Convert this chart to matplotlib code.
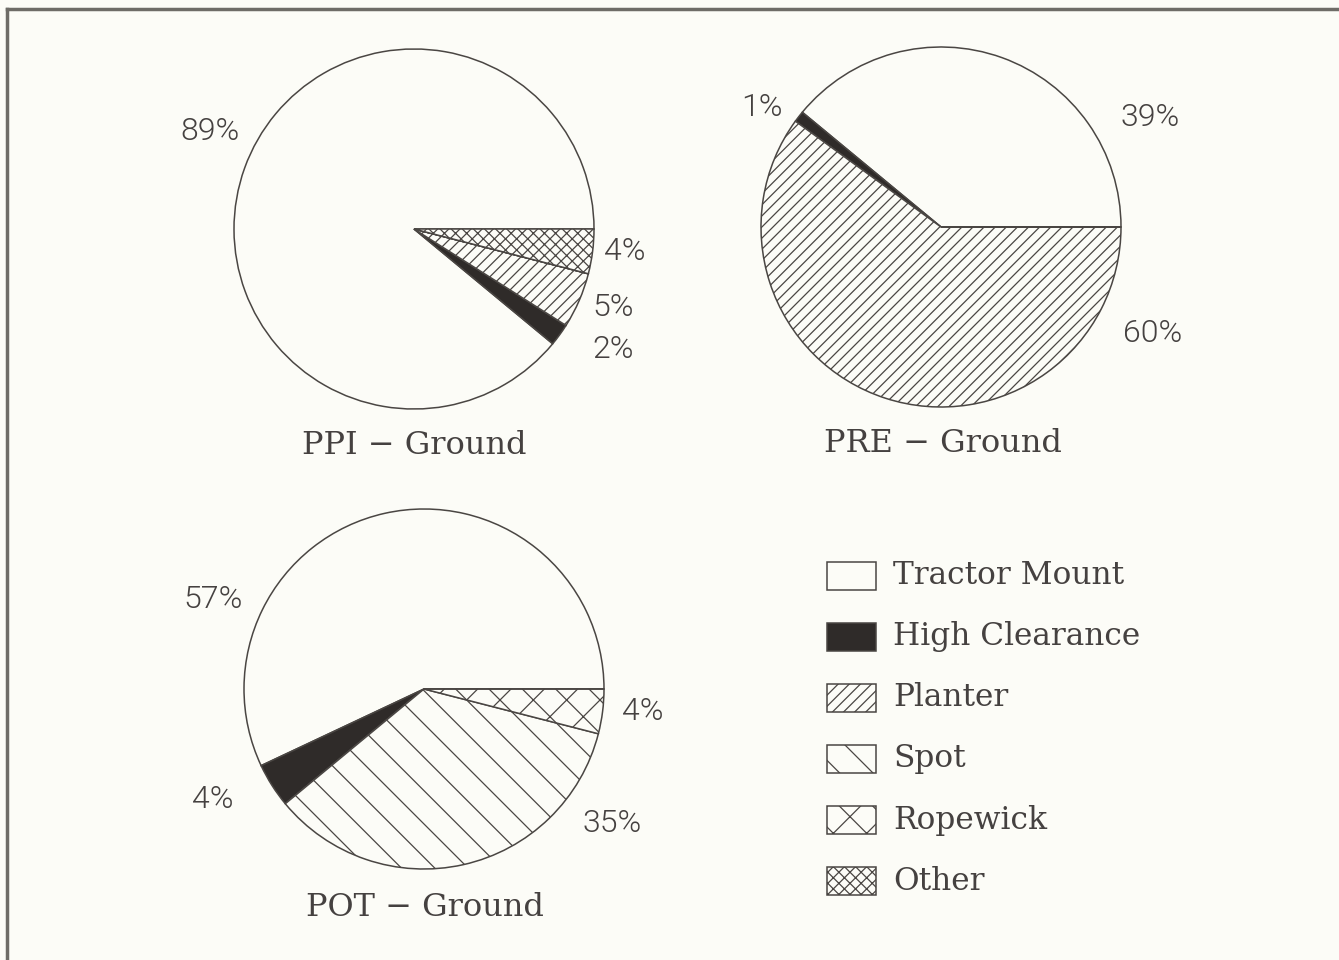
import matplotlib
matplotlib.use("Agg")
import matplotlib.pyplot as plt
from matplotlib.patches import Rectangle
from matplotlib.lines import Line2D

# ---- data ----
categories = ["Tractor Mount", "High Clearance", "Planter", "Spot", "Ropewick", "Other"]
ppi_values = [89, 2, 5, 0, 0, 4]
pre_values = [39, 1, 60, 0, 0, 0]
pot_values = [57, 4, 0, 35, 4, 0]
titles = ["PPI − Ground", "PRE − Ground", "POT − Ground"]

# ---- style ----
BG = "#fcfcf7"
EDGE = "#4a4643"
DARK = "#2f2b29"
TXT = "#454140"
fills = ["none", DARK, "none", "none", "none", "none"]
hatches = [None, None, "///", "\\", "x", "xxx"]
plt.rcParams["hatch.linewidth"] = 0.9
plt.rcParams["hatch.color"] = EDGE

W, H = 1339, 960
fig = plt.figure(figsize=(W / 100, H / 100), dpi=100, facecolor=BG)
ax = fig.add_axes([0, 0, 1, 1])
ax.set_facecolor(BG)

def Y(py):
    return H - py

pies = [
    (ppi_values, (414, 229), 180),
    (pre_values, (941, 227), 180),
    (pot_values, (424, 689), 180),
]

for vals, (cx, cy), r in pies:
    wedges, _ = ax.pie(vals, center=(cx, Y(cy)), radius=r, startangle=0,
                       counterclock=True, frame=True,
                       wedgeprops=dict(edgecolor=EDGE, linewidth=1.1))
    for w, f, h in zip(wedges, fills, hatches):
        w.set_facecolor(BG if f == "none" else f)
        if h:
            w.set_hatch(h)

# percent labels (positions in pixels)
pct_font = dict(fontsize=23, color=TXT, family=["Roboto", "DejaVu Sans"], fontweight=300,
                ha="center", va="center")
labels = [
    ("89%", 210, 132), ("4%", 625, 252), ("5%", 613, 307), ("2%", 613, 349),
    ("1%", 762, 108), ("39%", 1150, 118), ("60%", 1153, 334),
    ("57%", 213, 600), ("4%", 643, 712), ("4%", 213, 800), ("35%", 612, 824),
]
for t, x, y in labels:
    ax.text(x, Y(y), t, **pct_font)

serif = ["DejaVu Serif"]
title_pos = [(414, 446), (943, 443), (425, 908)]
for t, (x, y) in zip(titles, title_pos):
    ax.text(x, Y(y), t, fontsize=23, color=TXT, family=serif, ha="center", va="center")

# legend
for i, (c, f, h) in enumerate(zip(categories, fills, hatches)):
    yc = 576 + i * 61
    rect = Rectangle((827, Y(yc + 14)), 49, 28, facecolor=(BG if f == "none" else f),
                     edgecolor=EDGE, linewidth=1.1, hatch=h)
    ax.add_patch(rect)
    ax.text(893, Y(yc), c, fontsize=22.5, color=TXT, family=serif, ha="left", va="center")

# frame lines (top and left)
ax.add_line(Line2D([7, W], [Y(9), Y(9)], color="#6e6c67", linewidth=2.5))
ax.add_line(Line2D([7, 7], [Y(9), 0], color="#6e6c67", linewidth=2.5))

ax.set_xlim(0, W)
ax.set_ylim(0, H)
ax.set_aspect("equal")
ax.axis("off")

fig.savefig("out.png", dpi=100, facecolor=BG)
